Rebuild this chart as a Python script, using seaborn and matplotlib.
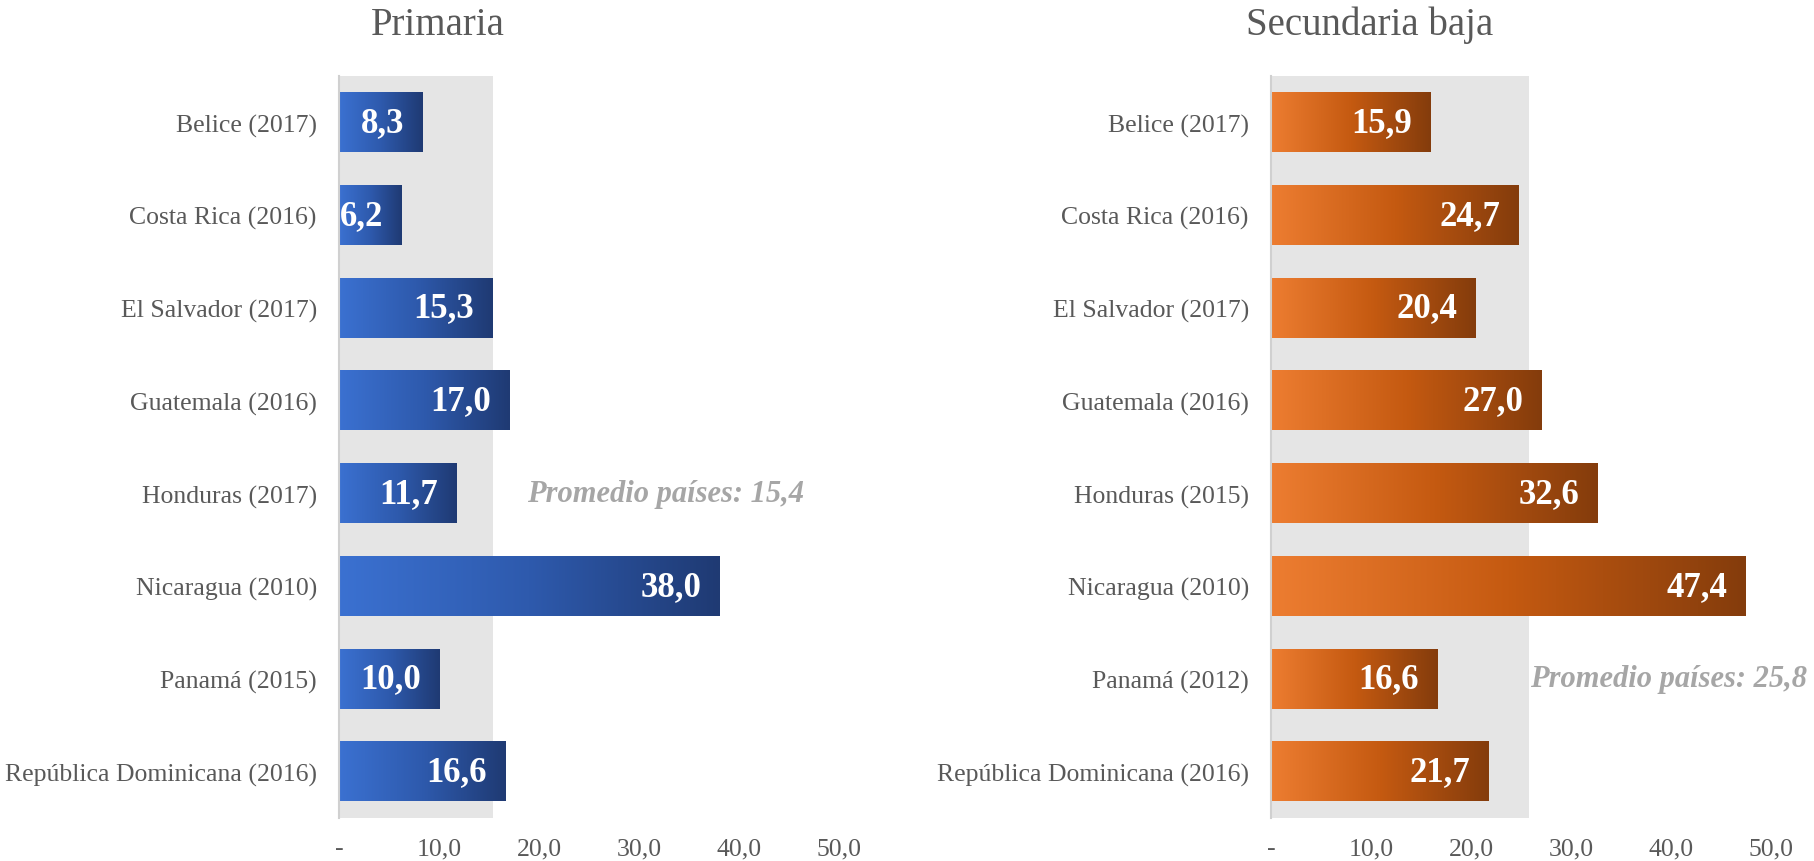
import matplotlib
matplotlib.use("Agg")
import matplotlib.pyplot as plt
import numpy as np
import pandas as pd
import seaborn as sns
from matplotlib.colors import LinearSegmentedColormap

paises_primaria = [
    "Belice (2017)", "Costa Rica (2016)", "El Salvador (2017)", "Guatemala (2016)",
    "Honduras (2017)", "Nicaragua (2010)", "Panamá (2015)", "República Dominicana (2016)",
]
valores_primaria = [8.3, 6.2, 15.3, 17.0, 11.7, 38.0, 10.0, 16.6]
promedio_primaria = 15.4

paises_secundaria = [
    "Belice (2017)", "Costa Rica (2016)", "El Salvador (2017)", "Guatemala (2016)",
    "Honduras (2015)", "Nicaragua (2010)", "Panamá (2012)", "República Dominicana (2016)",
]
valores_secundaria = [15.9, 24.7, 20.4, 27.0, 32.6, 47.4, 16.6, 21.7]
promedio_secundaria = 25.8

ticks = [0, 10, 20, 30, 40, 50]
tick_labels = ["-", "10,0", "20,0", "30,0", "40,0", "50,0"]

FONT = "Liberation Serif"
GRIS_TEXTO = "#595959"


def fmt(v):
    return f"{v:.1f}".replace(".", ",")


def draw_panel(ax, paises, valores, promedio, colores, nota_fila, nota_x):
    df = pd.DataFrame({"pais": paises, "valor": valores})
    sns.barplot(data=df, x="valor", y="pais", orient="h", width=0.64,
                color="white", ax=ax, zorder=2)
    ax.axvspan(0, promedio, color="#E5E5E5", zorder=0, lw=0)

    # degradado horizontal en cada barra
    cmap = LinearSegmentedColormap.from_list("grad", colores)
    grad = np.linspace(0, 1, 256).reshape(1, -1)
    for patch, v in zip(ax.containers[0], valores):
        x0, y0 = patch.get_x(), patch.get_y()
        w, h = patch.get_width(), patch.get_height()
        patch.set_visible(False)
        ax.imshow(grad, cmap=cmap, aspect="auto", extent=(x0, x0 + w, y0 + h, y0),
                  zorder=2, interpolation="bicubic")
        ax.annotate(fmt(v), xy=(x0 + w, y0 + h / 2), xytext=(-13, 0),
                    textcoords="offset points", ha="right", va="center",
                    color="white", fontsize=25, fontweight="bold", family=FONT, zorder=3)

    ax.text(nota_x, nota_fila, f"Promedio países: {fmt(promedio)}", ha="left", va="center",
            color="#A6A6A6", fontsize=22, fontweight="bold", fontstyle="italic",
            family=FONT, zorder=4, clip_on=False)

    ax.set_xlim(0, 50)
    ax.set_ylim(len(paises) - 0.5, -0.5)
    ax.set_xticks(ticks)
    ax.set_xticklabels(tick_labels, fontsize=18.5, color=GRIS_TEXTO, family=FONT)
    ax.set_yticks(range(len(paises)))
    ax.set_yticklabels(paises, fontsize=18.5, color=GRIS_TEXTO, family=FONT)
    ax.tick_params(axis="both", length=0)
    ax.tick_params(axis="y", pad=16)
    ax.tick_params(axis="x", pad=14)
    ax.set_xlabel("")
    ax.set_ylabel("")
    for side in ["top", "right", "bottom"]:
        ax.spines[side].set_visible(False)
    ax.spines["left"].set_color("#D0D0D0")
    ax.spines["left"].set_linewidth(1.5)
    ax.grid(False)


sns.set_theme(style="white")
plt.rcParams["font.family"] = [FONT, "DejaVu Serif"]

fig = plt.figure(figsize=(18.15, 8.62), dpi=100)
ax1 = fig.add_axes([0.1868, 0.0499, 0.2755, 0.8608])
ax2 = fig.add_axes([0.7003, 0.0499, 0.2755, 0.8608])

draw_panel(ax1, paises_primaria, valores_primaria, promedio_primaria,
           ["#3B71D1", "#2E5AAD", "#1F3A73"], 4, 18.8)
draw_panel(ax2, paises_secundaria, valores_secundaria, promedio_secundaria,
           ["#ED7D31", "#C55A11", "#843C0C"], 6, 25.9)

fig.text(0.2413, 0.9594, "Primaria", ha="center", va="baseline",
         fontsize=28, color=GRIS_TEXTO, family=FONT)
fig.text(0.7548, 0.9594, "Secundaria baja", ha="center", va="baseline",
         fontsize=28, color=GRIS_TEXTO, family=FONT)

fig.savefig("out.png", dpi=100)
